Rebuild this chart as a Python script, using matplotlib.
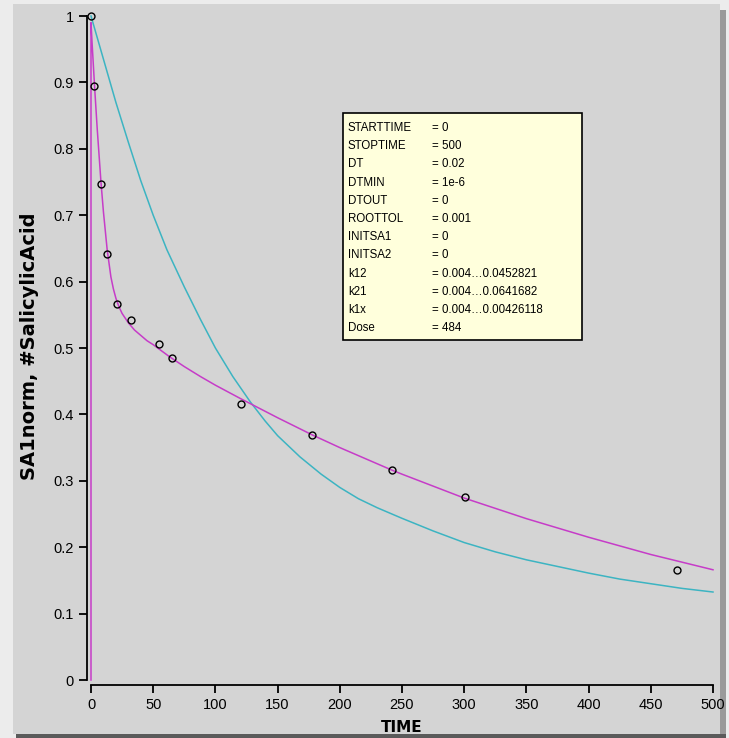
import matplotlib
matplotlib.use("Agg")
import matplotlib.pyplot as plt
from matplotlib.patches import Rectangle

# --- data ---
obs_time = [0, 2.7, 7.8, 13, 21, 32, 54.4, 65, 120.6, 178, 242, 301, 471]
obs_value = [1.0, 0.895, 0.747, 0.642, 0.566, 0.542, 0.5055, 0.485, 0.4157, 0.369, 0.316, 0.276, 0.166]

fit_time = [0, 0, 1, 3, 5, 8, 10, 13, 16, 18, 20, 22.5, 25, 30, 35, 40, 45, 50, 63,
            75, 88, 100, 120, 150, 178, 200, 242, 250, 300, 350, 400, 450, 500]
fit_value = [0, 0.99, 0.955, 0.89, 0.83, 0.75, 0.705, 0.648, 0.607, 0.589, 0.575,
             0.562, 0.552, 0.538, 0.527, 0.519, 0.511, 0.505, 0.487, 0.472, 0.457,
             0.444, 0.424, 0.395, 0.369, 0.35, 0.316, 0.31, 0.274, 0.243, 0.215,
             0.189, 0.166]

start_time = [0, 10, 20, 30, 40, 50, 61, 75, 88, 100, 114, 128, 140, 150, 168, 185,
              200, 215, 230, 250, 275, 300, 325, 350, 375, 400, 425, 450, 475, 500]
start_value = [1.0, 0.935, 0.87, 0.81, 0.752, 0.70, 0.648, 0.592, 0.543, 0.50, 0.457,
               0.419, 0.39, 0.368, 0.336, 0.31, 0.29, 0.273, 0.2595, 0.2435, 0.2245,
               0.207, 0.193, 0.181, 0.171, 0.161, 0.152, 0.145, 0.138, 0.1325]

x_ticks = [0, 50, 100, 150, 200, 250, 300, 350, 400, 450, 500]
y_ticks = [0, 0.1, 0.2, 0.3, 0.4, 0.5, 0.6, 0.7, 0.8, 0.9, 1]
y_tick_labels = ["0", "0.1", "0.2", "0.3", "0.4", "0.5", "0.6", "0.7", "0.8", "0.9", "1"]

param_names = ["STARTTIME", "STOPTIME", "DT", "DTMIN", "DTOUT", "ROOTTOL",
               "INITSA1", "INITSA2", "k12", "k21", "k1x", "Dose"]
param_values = ["= 0", "= 500", "= 0.02", "= 1e-6", "= 0", "= 0.001", "= 0", "= 0",
                "= 0.004\u20260.0452821", "= 0.004\u20260.0641682",
                "= 0.004\u20260.00426118", "= 484"]

W, H = 729, 738
fig = plt.figure(figsize=(W / 100, H / 100), dpi=100)
fig.patch.set_facecolor("#ececec")


def px_rect(x0, y0, x1, y1, **kw):
    # rectangle given in pixel coords (top-left origin)
    r = Rectangle((x0 / W, 1 - y1 / H), (x1 - x0) / W, (y1 - y0) / H,
                  transform=fig.transFigure, **kw)
    fig.add_artist(r)
    return r


# window and its shadow
px_rect(19, 10, 726, 738, facecolor="#9a9a9a", edgecolor="none", zorder=-6)
px_rect(13, 4, 720, 734, facecolor="#d4d4d4", edgecolor="none", zorder=-5)
px_rect(16, 734, 726, 738, facecolor="#5a5a5a", edgecolor="none", zorder=10)

ax = fig.add_axes([91 / W, 1 - 680 / H, (713 - 91) / W, (680 - 16) / H])
ax.set_facecolor("none")

ax.plot(start_time, start_value, color="#3cb4c2", lw=1.1, clip_on=False)
ax.plot(fit_time, fit_value, color="#c63cc8", lw=1.1, clip_on=False)
ax.plot(obs_time, obs_value, "o", mfc="none", mec="black", ms=5, mew=1.0, clip_on=False)

ax.set_xlim(0, 500)
ax.set_ylim(0, 1)
for s in ["top", "right"]:
    ax.spines[s].set_visible(False)
ax.spines["left"].set_position(("outward", 3))
ax.spines["bottom"].set_position(("outward", 3.6))
ax.spines["left"].set_bounds(0, 1)
ax.spines["bottom"].set_bounds(0, 500)
ax.spines["left"].set_linewidth(1.3)
ax.spines["bottom"].set_linewidth(1.3)

ax.set_xticks(x_ticks)
ax.set_yticks(y_ticks)
ax.set_yticklabels(y_tick_labels)
ax.tick_params(length=5.5, width=1.3, pad=4, labelsize=10.5, colors="black")
for lab in ax.get_xticklabels() + ax.get_yticklabels():
    lab.set_family("Liberation Sans")

fig.text(30 / W, 1 - 346 / H, "SA1norm, #SalicylicAcid", rotation=90,
         ha="center", va="center", fontsize=14, fontweight="bold", family="DejaVu Sans")
fig.text(402 / W, 1 - 720 / H, "TIME", ha="center", va="top", fontsize=11,
         fontweight="bold", family="DejaVu Sans")

# parameter box
px_rect(343, 113, 582, 340, facecolor="#ffffdc", edgecolor="black", lw=1.2, zorder=3)
for i, (name, val) in enumerate(zip(param_names, param_values)):
    y = 1 - (128 + i * 18.2) / H
    fig.text(348 / W, y, name, ha="left", va="center", fontsize=8.3,
             family="Liberation Sans", zorder=4)
    fig.text(432 / W, y, val, ha="left", va="center", fontsize=8.3,
             family="Liberation Sans", zorder=4)

fig.savefig("out.png", dpi=100, facecolor=fig.get_facecolor())
